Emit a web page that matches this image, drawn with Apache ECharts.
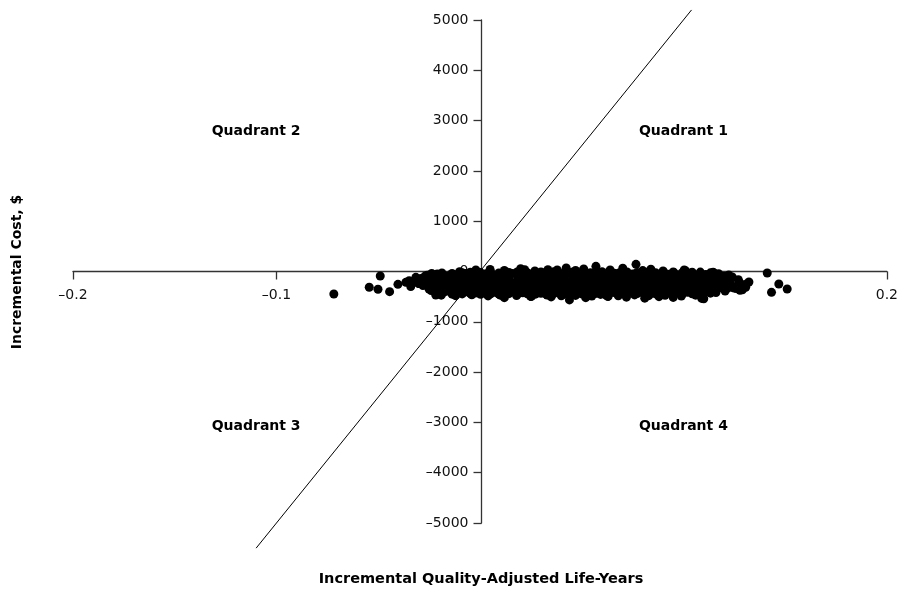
<!DOCTYPE html>
<html><head><meta charset="utf-8">
<script src="https://cdn.jsdelivr.net/npm/echarts@6/dist/echarts.min.js"></script>
<style>html,body{margin:0;padding:0;background:#fff}#c{width:901px;height:590px}</style>
</head><body><div id="c"></div>
<script>
// ---- data ----
var xTicks = [-0.2, -0.1, 0, 0.1, 0.2];
var yTicks = [-5000, -4000, -3000, -2000, -1000, 0, 1000, 2000, 3000, 4000, 5000];
var xAxisTitle = 'Incremental Quality-Adjusted Life-Years';
var yAxisTitle = 'Incremental Cost, $';
var quadrantNames = ['Quadrant 1', 'Quadrant 2', 'Quadrant 3', 'Quadrant 4'];
var wtpThreshold = 50000; // $ per QALY
var wtpLineX = [-0.11, 0.104];

var leftTail = [[-0.0718,-447],[-0.0544,-314],[-0.0501,-354],[-0.049,-89],[-0.0444,-401],[-0.0403,-255],[-0.0364,-215],[-0.0348,-183],[-0.0315,-116],[-0.0266,-169],[-0.0217,-467],[-0.034,-300],[-0.030,-240]];
var rightTail = [[0.1322,-209],[0.1306,-314],[0.1278,-374],[0.1412,-30],[0.1469,-249],[0.1433,-414],[0.151,-348],[0.1249,-328],[0.129,-362],[0.1146,-16],[0.115,-30],[0.109,-535],[0.110,-541]];
var topPoints = [[0.0334,36],[0.038,30],[0.0424,70],[0.057,103],[0.0702,64],[0.0767,143],[0.1004,30],[0.101,16],[0.005,40],[0.012,20],[0.020,55],[0.027,10],[-0.002,30],[0.047,20],[0.064,30],[0.084,45],[0.090,10],[0.051,50],[0.022,36],[0.080,18],[-0.010,-5],[0.095,-10],[0.030,-10],[0.060,-5],[0.0705,-15]];
var bottomPoints = [[0.044,-565],[0.025,-495],[0.063,-495],[0.081,-530],[0.012,-520],[0.052,-520],[0.095,-515],[0.072,-510],[0.0253,-493],[0.0628,-493],[0.035,-505],[0.088,-500]];
var row1 = [[-0.026,-75],[-0.021,-50],[-0.016,-88],[-0.011,-62],[-0.007,-40],[-0.002,-70],[0.003,-45],[0.007,-82],[0.012,-55],[0.016,-38],[0.021,-72],[0.025,-60],[0.030,-44],[0.034,-86],[0.039,-58],[0.043,-40],[0.048,-66],[0.052,-90],[0.057,-48],[0.061,-62],[0.066,-35],[0.070,-78],[0.075,-52],[0.079,-64],[0.084,-42],[0.088,-80],[0.093,-56],[0.097,-70],[0.102,-46],[0.106,-88],[0.111,-60],[0.115,-74],[0.120,-92],[0.124,-110]];
var row2 = [[-0.029,-140],[-0.024,-120],[-0.019,-150],[-0.014,-125],[-0.009,-110],[-0.004,-145],[0.001,-130],[0.005,-118],[0.010,-150],[0.014,-122],[0.019,-138],[0.023,-112],[0.028,-148],[0.032,-126],[0.037,-135],[0.041,-115],[0.046,-152],[0.050,-128],[0.055,-140],[0.059,-118],[0.064,-132],[0.068,-150],[0.073,-120],[0.077,-142],[0.082,-128],[0.086,-112],[0.091,-146],[0.095,-130],[0.100,-140],[0.104,-122],[0.109,-150],[0.113,-135],[0.118,-158],[0.122,-142],[0.127,-165]];
var row3 = [[-0.031,-210],[-0.027,-190],[-0.022,-220],[-0.017,-200],[-0.012,-185],[-0.007,-215],[-0.003,-195],[0.002,-205],[0.006,-225],[0.011,-190],[0.015,-210],[0.020,-198],[0.024,-222],[0.029,-186],[0.033,-208],[0.038,-215],[0.042,-192],[0.047,-205],[0.051,-225],[0.056,-188],[0.060,-212],[0.065,-200],[0.069,-220],[0.074,-194],[0.078,-208],[0.083,-216],[0.087,-190],[0.092,-205],[0.096,-222],[0.101,-196],[0.105,-212],[0.110,-200],[0.114,-226],[0.119,-205],[0.123,-218],[0.128,-235],[0.131,-250]];
var row4 = [[-0.028,-280],[-0.023,-262],[-0.018,-290],[-0.013,-270],[-0.008,-255],[-0.003,-285],[0.002,-265],[0.007,-278],[0.011,-258],[0.016,-292],[0.020,-268],[0.025,-282],[0.029,-256],[0.034,-275],[0.038,-290],[0.043,-262],[0.047,-280],[0.052,-268],[0.056,-295],[0.061,-258],[0.065,-276],[0.070,-288],[0.074,-262],[0.079,-280],[0.083,-266],[0.088,-292],[0.092,-270],[0.097,-256],[0.101,-285],[0.106,-272],[0.110,-290],[0.115,-266],[0.119,-284],[0.124,-300],[0.129,-290]];
var row5 = [[-0.025,-350],[-0.020,-330],[-0.015,-360],[-0.010,-338],[-0.005,-325],[0.000,-355],[0.004,-335],[0.009,-348],[0.013,-322],[0.018,-360],[0.022,-340],[0.027,-352],[0.031,-328],[0.036,-345],[0.040,-362],[0.045,-334],[0.049,-350],[0.054,-326],[0.058,-358],[0.063,-340],[0.067,-330],[0.072,-355],[0.076,-342],[0.081,-325],[0.085,-360],[0.090,-338],[0.094,-350],[0.099,-330],[0.103,-356],[0.108,-340],[0.112,-362],[0.117,-335],[0.121,-350],[0.126,-340]];
var row6 = [[-0.022,-420],[-0.017,-400],[-0.012,-430],[-0.007,-405],[-0.002,-425],[0.003,-398],[0.008,-418],[0.012,-435],[0.017,-402],[0.021,-422],[0.026,-410],[0.030,-432],[0.035,-398],[0.039,-415],[0.044,-428],[0.048,-404],[0.053,-420],[0.057,-436],[0.062,-400],[0.066,-418],[0.071,-430],[0.075,-405],[0.080,-422],[0.084,-410],[0.089,-432],[0.093,-400],[0.098,-420],[0.102,-412],[0.107,-430],[0.111,-405],[0.116,-418]];
var row7 = [[-0.019,-470],[-0.012,-480],[-0.004,-462],[0.004,-485],[0.010,-470],[0.018,-478],[0.025,-492],[0.033,-468],[0.040,-482],[0.047,-475],[0.055,-488],[0.062,-470],[0.068,-484],[0.076,-466],[0.083,-480],[0.091,-472],[0.099,-486],[0.106,-470]];
var rowA = [[-0.027,-95],[-0.022,-100],[-0.0175,-92],[-0.013,-105],[-0.0085,-90],[-0.004,-98],[0.0005,-102],[0.005,-88],[0.0095,-96],[0.014,-104],[0.0185,-92],[0.023,-99],[0.0275,-90],[0.032,-106],[0.0365,-94],[0.041,-100],[0.0455,-88],[0.050,-97],[0.0545,-104],[0.059,-91],[0.0635,-99],[0.068,-93],[0.0725,-105],[0.077,-95],[0.0815,-90],[0.086,-101],[0.0905,-94],[0.095,-98],[0.0995,-106],[0.104,-92],[0.1085,-100],[0.113,-96],[0.1175,-108],[0.122,-120]];
var rowB = [[-0.030,-240],[-0.0255,-232],[-0.021,-245],[-0.0165,-230],[-0.012,-238],[-0.0075,-242],[-0.003,-228],[0.0015,-236],[0.006,-244],[0.0105,-232],[0.015,-240],[0.0195,-228],[0.024,-246],[0.0285,-236],[0.033,-230],[0.0375,-242],[0.042,-234],[0.0465,-240],[0.051,-228],[0.0555,-245],[0.060,-236],[0.0645,-231],[0.069,-243],[0.0735,-235],[0.078,-240],[0.0825,-229],[0.087,-244],[0.0915,-236],[0.096,-232],[0.1005,-242],[0.105,-234],[0.1095,-240],[0.114,-248],[0.1185,-238],[0.123,-252],[0.127,-265]];
var rowC = [[-0.024,-380],[-0.019,-372],[-0.0145,-385],[-0.010,-370],[-0.0055,-378],[-0.001,-388],[0.0035,-374],[0.008,-382],[0.0125,-370],[0.017,-386],[0.0215,-376],[0.026,-380],[0.0305,-372],[0.035,-388],[0.0395,-375],[0.044,-381],[0.0485,-370],[0.053,-384],[0.0575,-377],[0.062,-372],[0.0665,-386],[0.071,-378],[0.0755,-382],[0.080,-371],[0.0845,-385],[0.089,-376],[0.0935,-380],[0.098,-372],[0.1025,-386],[0.107,-377],[0.1115,-382],[0.116,-374],[0.1205,-388]];
var rowD = [[-0.0237,-160],[-0.0187,-172],[-0.0137,-158],[-0.0087,-168],[-0.0047,-175],[0.0003,-162],[0.0053,-170],[0.0093,-155],[0.0143,-166],[0.0183,-178],[0.0233,-160],[0.0273,-170],[0.0323,-164],[0.0363,-158],[0.0413,-174],[0.0453,-166],[0.0503,-160],[0.0543,-172],[0.0593,-156],[0.0633,-168],[0.0683,-176],[0.0723,-162],[0.0773,-170],[0.0813,-158],[0.0863,-166],[0.0903,-174],[0.0953,-160],[0.0993,-168],[0.1043,-172],[0.1083,-158],[0.1133,-170],[0.1173,-164],[0.1223,-180]];
var rowE = [[-0.0237,-300],[-0.0187,-312],[-0.0137,-298],[-0.0087,-308],[-0.0047,-315],[0.0003,-302],[0.0053,-310],[0.0093,-296],[0.0143,-306],[0.0183,-318],[0.0233,-300],[0.0273,-310],[0.0323,-304],[0.0363,-298],[0.0413,-314],[0.0453,-306],[0.0503,-300],[0.0543,-312],[0.0593,-296],[0.0633,-308],[0.0683,-316],[0.0723,-302],[0.0773,-310],[0.0813,-298],[0.0863,-306],[0.0903,-314],[0.0953,-300],[0.0993,-308],[0.1043,-312],[0.1083,-298],[0.1133,-310],[0.1173,-304],[0.1223,-318]];
var rowF = [[-0.0237,-40],[-0.0187,-30],[-0.0137,-38],[-0.0087,-25],[-0.0047,-15],[0.0003,-22],[0.0053,-12],[0.0093,-30],[0.0143,-18],[0.0183,-8],[0.0233,-25],[0.0273,-14],[0.0323,-20],[0.0363,-6],[0.0413,-26],[0.0453,-16],[0.0503,-10],[0.0543,-24],[0.0593,-18],[0.0633,-12],[0.0683,-28],[0.0723,-8],[0.0773,-20],[0.0813,-15],[0.0863,-25],[0.0903,-10],[0.0953,-22],[0.0993,-30],[0.1043,-16],[0.1083,-12],[0.1133,-26],[0.1173,-45],[0.1223,-70]];
var rowG = [[-0.0187,-440],[-0.0137,-450],[-0.0087,-446],[-0.0047,-438],[0.0003,-452],[0.0053,-444],[0.0093,-448],[0.0143,-440],[0.0183,-456],[0.0233,-442],[0.0273,-450],[0.0323,-446],[0.0363,-438],[0.0413,-452],[0.0453,-444],[0.0503,-448],[0.0543,-440],[0.0593,-456],[0.0633,-442],[0.0683,-450],[0.0723,-446],[0.0773,-438],[0.0813,-452],[0.0863,-444],[0.0903,-448],[0.0953,-440],[0.0993,-456],[0.1043,-442],[0.1083,-450],[0.1133,-430]];

var simPoints = [].concat(rowF,row1,rowA,row2,rowD,row3,rowB,row4,rowE,row5,rowC,row6,rowG,row7,topPoints,bottomPoints,leftTail,rightTail);

// ---- chart ----
var FONT = 'DejaVu Sans';
var GRID = {left:73, right:11, top:20, bottom:67};
var chartH = 590, chartW = 901;
var gridH = chartH - GRID.top - GRID.bottom, gridW = chartW - GRID.left - GRID.right;
var yMin = yTicks[0], yMax = yTicks[yTicks.length-1];
var xMin = xTicks[0], xMax = xTicks[xTicks.length-1];
// offsets to put axes through the origin
var xOff = -gridH * (0 - yMin) / (yMax - yMin);
var yOff = -gridW * (0 - xMin) / (xMax - xMin);

var chart = echarts.init(document.getElementById('c'), null, {renderer:'canvas'});
function fmt(v){
  var s = String(Math.round(v*1000)/1000);
  return v < 0 ? '\u2013' + s.replace('-','') : s;
}
var axisCol = '#333';
chart.setOption({
  animation:false,
  backgroundColor:'#fff',
  grid:{left:GRID.left,right:GRID.right,top:GRID.top,bottom:GRID.bottom,containLabel:false},
  xAxis:{type:'value',min:xMin,max:xMax,interval:xTicks[1]-xTicks[0],position:'bottom',offset:xOff,
    axisLine:{onZero:false,lineStyle:{color:axisCol,width:1.3}},
    axisTick:{length:8,lineStyle:{color:axisCol,width:1.3}},
    axisLabel:{margin:17,fontFamily:FONT,fontSize:14,color:'#111',
      formatter:function(v){ return (Math.abs(v)<1e-9 || Math.abs(v-0.1)<1e-9) ? '' : fmt(v); }},
    splitLine:{show:false}},
  yAxis:{type:'value',min:yMin,max:yMax,interval:yTicks[1]-yTicks[0],position:'left',offset:yOff,
    axisLine:{onZero:false,lineStyle:{color:axisCol,width:1.3}},
    axisTick:{length:8,lineStyle:{color:axisCol,width:1.3}},
    axisLabel:{margin:13,fontFamily:FONT,fontSize:14,color:'#111',formatter:fmt},
    splitLine:{show:false}},
  series:[
    {type:'line',z:1,clip:false,symbol:'none',silent:true,
      lineStyle:{color:'#000',width:1},
      data:wtpLineX.map(function(x){return [x, x*wtpThreshold];})},
    {type:'scatter',z:3,symbol:'circle',symbolSize:9,itemStyle:{color:'#000',opacity:1},
      data:simPoints},
    {type:'scatter',z:4,symbolSize:0,silent:true,
      label:{show:true,position:[0,0],align:'center',verticalAlign:'middle',formatter:'{b}',fontFamily:FONT,fontWeight:'bold',fontSize:14,color:'#000',textBorderWidth:0,opacity:1},
      data:[
        {name:quadrantNames[0],value:[0.1,2790]},
        {name:quadrantNames[1],value:[-0.11,2790]},
        {name:quadrantNames[2],value:[-0.11,-3070]},
        {name:quadrantNames[3],value:[0.1,-3070]}
      ]}
  ],
  graphic:[
    {type:'text',x:481,y:572,style:{text:xAxisTitle,font:'bold 14.5px "DejaVu Sans"',fill:'#000',align:'center',verticalAlign:'top'}},
    {type:'text',x:10,y:272,rotation:Math.PI/2,style:{text:yAxisTitle,font:'bold 14px "DejaVu Sans"',fill:'#000',align:'center',verticalAlign:'top'}}
  ]
});
</script></body></html>
